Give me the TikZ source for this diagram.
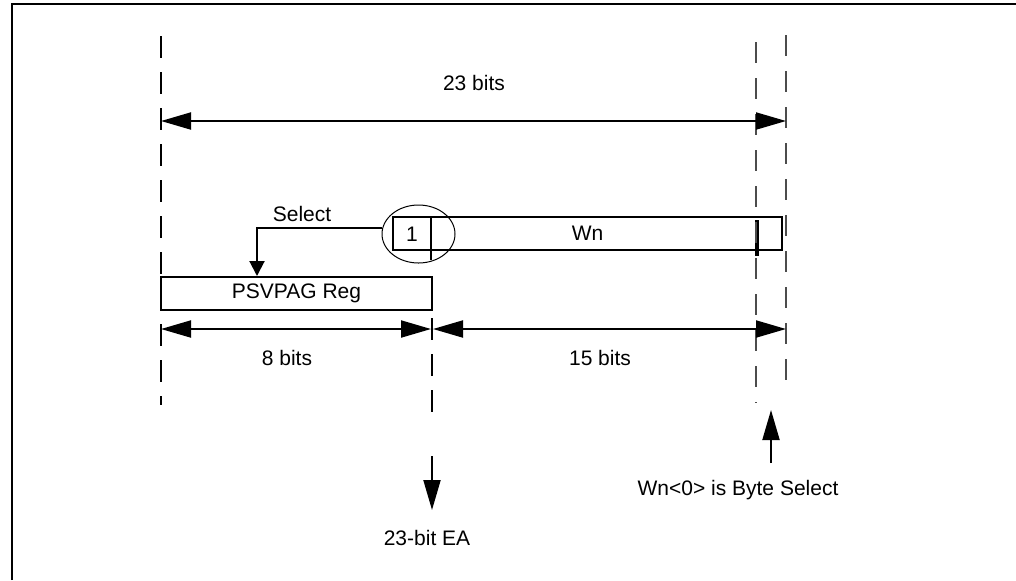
\documentclass[tikz,border=0pt]{standalone}
\usepackage{fontspec}
\setmainfont{Liberation Sans}
\usetikzlibrary{shapes,arrows.meta,positioning}
\tikzstyle{rec} = [rectangle, draw=black, line width=1pt, inner sep=0pt, text centered]
\tikzstyle{guide} = [draw=black, line width=1pt, dash pattern=on 11pt off 7pt]
\tikzstyle{fineguide} = [draw=black!70, line width=0.55pt, dash pattern=on 10.5pt off 7.5pt]

\begin{document}
\begin{tikzpicture}[x=0.5pt,y=-0.5pt,>={Triangle[length=15pt,width=8.5pt]},
  font=\fontsize{10.5}{12.6}\selectfont,
  dim/.style={line width=1pt},
  small tip/.style={-{Triangle[length=7.5pt,width=7.5pt]}}]
          \useasboundingbox (0,0) rectangle (1016,580);
          \draw[line width=1pt] (12,580) -- (12,4) -- (1016,4);

          % registers
          \node (Wn) [rec, minimum width=194.5pt, minimum height=16.5pt] at (587.5,233.5) {Wn};
          \node (One) at (412,234) {1};
          \node (Circ) [ellipse, draw, line width=0.5pt, minimum width=36.5pt, minimum height=29pt, inner sep=0pt] at (418.5,234) {};
          \node (PSVPAG) [rec, minimum width=135.5pt, minimum height=16.5pt] at (296.5,293.5) {PSVPAG Reg};
          \draw[line width=1pt] (431,217) -- (431,260);
          \draw[line width=1.6pt] (757,220) -- (757,256);

          % labels
          \node (Select) at (302,214) {Select};
          \node (Bits23) at (474,83) {23 bits};
          \node (Bits8) at (287,358) {8 bits};
          \node (Bits15) at (600,358) {15 bits};
          \node (EA) at (427,538) {23-bit EA};
          \node (ByteSel) at (738,490) {Wn<0> is Byte Select};

          % guide lines
          \coordinate (G1) at (161,36);   \coordinate (G1b) at (161,405);
          \coordinate (G2) at (432,318);  \coordinate (G2b) at (432,412);
          \coordinate (G3) at (756,42);   \coordinate (G3b) at (756,403);
          \coordinate (G4) at (786,35);   \coordinate (G4b) at (786,394);
          \draw[guide] (G1) -- (G1b);
          \draw[guide] (G2) -- (G2b);
          \draw[fineguide] (G3) -- (G3b);
          \draw[fineguide] (G4) -- (G4b);

          % widths
          \coordinate (A23l) at (161,121); \coordinate (A23r) at (786,121);
          \coordinate (A8l) at (161,329);  \coordinate (A8r) at (431,329);
          \coordinate (A15l) at (433,329); \coordinate (A15r) at (786,329);
          \draw[dim,<->] (A23l) -- (A23r);
          \draw[dim,<->] (A8l) -- (A8r);
          \draw[dim,<->] (A15l) -- (A15r);

          % select path and outputs
          \coordinate (SelTurn) at (257,228);
          \draw[dim,small tip] (Circ.west |- SelTurn) -- (SelTurn) -- (SelTurn |- PSVPAG.north);
          \coordinate (EAtail) at (432,456); \coordinate (EAtip) at (432,510);
          \draw[dim,->] (EAtail) -- (EAtip);
          \coordinate (BStail) at (771,463); \coordinate (BStip) at (771,410);
          \draw[dim,->] (BStail) -- (BStip);
\end{tikzpicture}
\end{document}
